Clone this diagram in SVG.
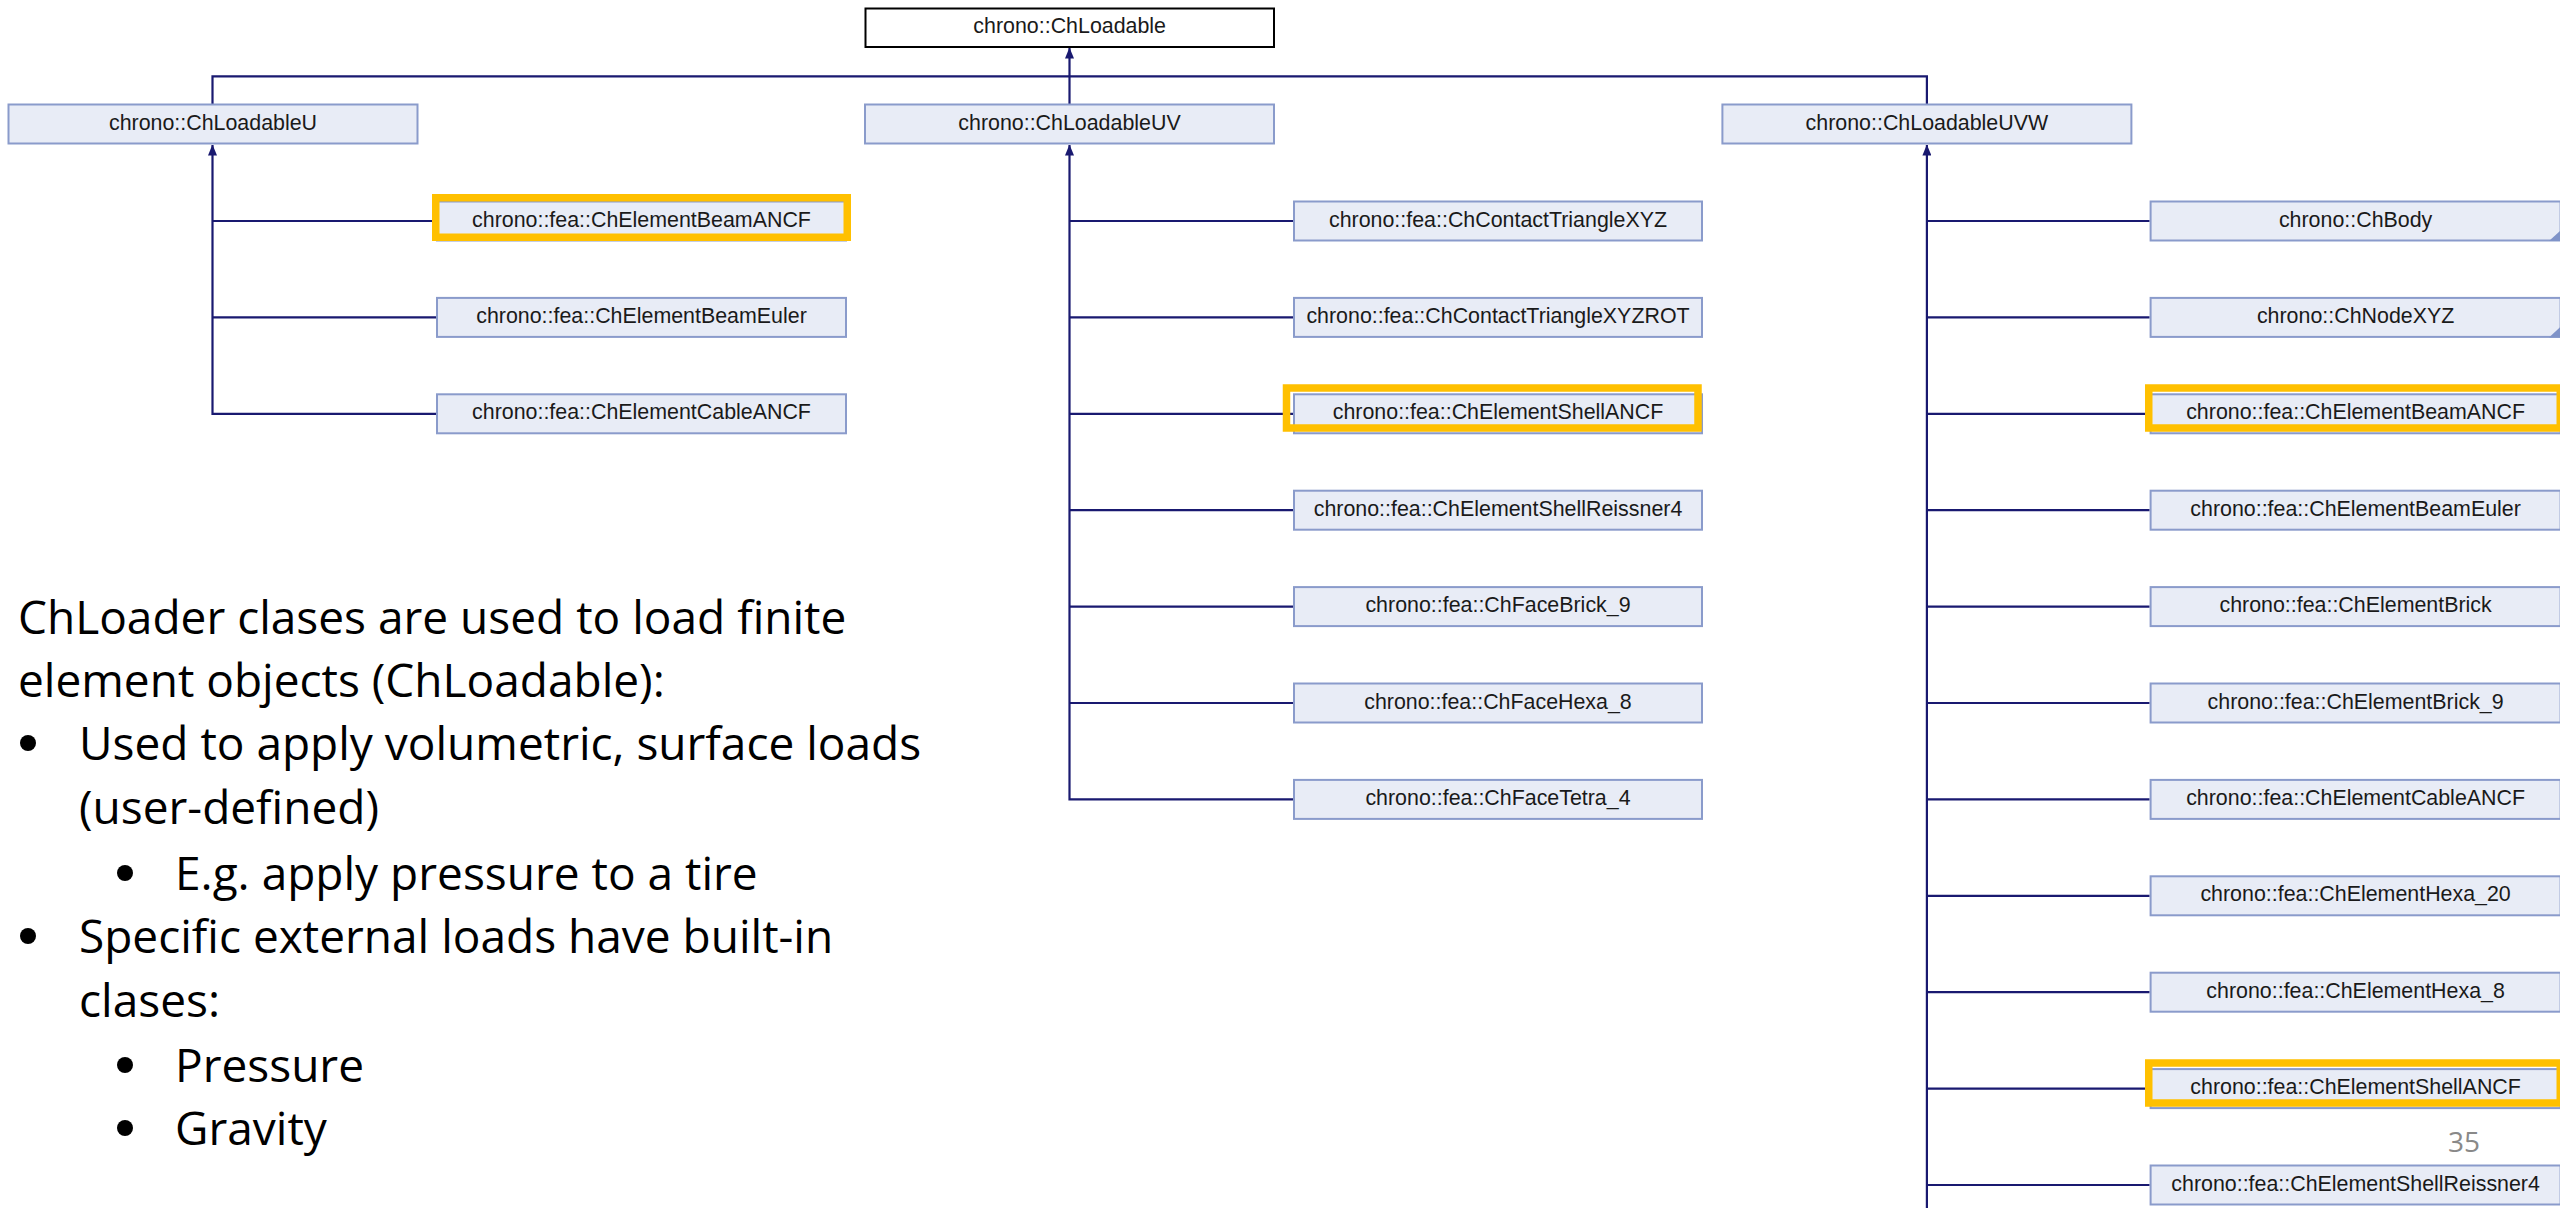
<svg xmlns="http://www.w3.org/2000/svg" width="2560" height="1208" viewBox="0 0 2560 1208">
<style>
  .node rect { fill: #E8ECF6; stroke: #8A9BCB; stroke-width: 2; }
  .root rect { fill: #FFFFFF; stroke: #000000; stroke-width: 2; }
  .node text, .root text { font-family: "Liberation Sans", Arial, sans-serif; font-size: 21.4px; fill: #1a1a1a; text-anchor: middle; }
  .node rect.hl { fill: none; stroke: #FFC000; stroke-width: 7.5; }
  .conn path { fill: none; stroke: #191970; stroke-width: 2.2; }
  .node polygon.trunc { fill: #7F93C8; }
  .body { font-family: "Open Sans", "Liberation Sans", sans-serif; font-size: 46px; fill: #000000; }
  .bul { fill: #000000; }
  .pg { font-family: "Open Sans", "Liberation Sans", sans-serif; font-size: 28px; fill: #898989; }
</style>
<defs>
  <marker id="arr" viewBox="0 0 11 9" refX="10.5" refY="4.5" markerWidth="11" markerHeight="9" markerUnits="userSpaceOnUse" orient="auto">
    <path d="M0,0 L11,4.5 L0,9 z" fill="#191970"/>
  </marker>
</defs>
<rect x="0" y="0" width="2560" height="1208" fill="#FFFFFF"/>

<g id="connectors" class="conn">
  <path d="M1069.5,104 V48" marker-end="url(#arr)"/>
  <path d="M212.5,104 V76.3 H1926.9 V104"/>
  <!-- ChLoadableU children -->
  <path d="M436,413.8 H212.5 V145" marker-end="url(#arr)"/>
  <path d="M212.5,221 H436"/>
  <path d="M212.5,317.4 H436"/>
  <!-- ChLoadableUV children -->
  <path d="M1293,799.4 H1069.5 V145" marker-end="url(#arr)"/>
  <path d="M1069.5,221 H1293"/>
  <path d="M1069.5,317.4 H1293"/>
  <path d="M1069.5,413.8 H1293"/>
  <path d="M1069.5,510.2 H1293"/>
  <path d="M1069.5,606.6 H1293"/>
  <path d="M1069.5,703 H1293"/>
  <!-- ChLoadableUVW children -->
  <path d="M1926.9,1208 V145" marker-end="url(#arr)"/>
  <path d="M1926.9,221 H2149.6"/>
  <path d="M1926.9,317.4 H2149.6"/>
  <path d="M1926.9,413.8 H2149.6"/>
  <path d="M1926.9,510.2 H2149.6"/>
  <path d="M1926.9,606.6 H2149.6"/>
  <path d="M1926.9,703 H2149.6"/>
  <path d="M1926.9,799.4 H2149.6"/>
  <path d="M1926.9,895.8 H2149.6"/>
  <path d="M1926.9,992.2 H2149.6"/>
  <path d="M1926.9,1088.6 H2149.6"/>
  <path d="M1926.9,1185 H2149.6"/>
</g>

<g id="n_ChLoadable" class="root"><rect x="865.5" y="8.5" width="408.5" height="38.5"/><text x="1069.7" y="33">chrono::ChLoadable</text></g>

<g id="n_ChLoadableU" class="node"><rect x="8.5" y="104.5" width="409" height="39"/><text x="213" y="129.5">chrono::ChLoadableU</text></g>
<g id="n_ChLoadableUV" class="node"><rect x="865" y="104.5" width="409" height="39"/><text x="1069.5" y="129.5">chrono::ChLoadableUV</text></g>
<g id="n_ChLoadableUVW" class="node"><rect x="1722.4" y="104.5" width="409" height="39"/><text x="1926.9" y="129.5">chrono::ChLoadableUVW</text></g>

<!-- U column -->
<g id="n_U_BeamANCF" class="node"><rect x="437" y="201.5" width="409" height="39"/><rect class="hl" x="435.75" y="197.75" width="411.5" height="39.5"/><text x="641.5" y="226.5">chrono::fea::ChElementBeamANCF</text></g>
<g id="n_U_BeamEuler" class="node"><rect x="437" y="297.9" width="409" height="39"/><text x="641.5" y="322.9">chrono::fea::ChElementBeamEuler</text></g>
<g id="n_U_CableANCF" class="node"><rect x="437" y="394.3" width="409" height="39"/><text x="641.5" y="419.3">chrono::fea::ChElementCableANCF</text></g>

<!-- UV column -->
<g id="n_UV_ContactTriangleXYZ" class="node"><rect x="1294" y="201.5" width="408" height="39"/><text x="1498" y="226.5">chrono::fea::ChContactTriangleXYZ</text></g>
<g id="n_UV_ContactTriangleXYZROT" class="node"><rect x="1294" y="297.9" width="408" height="39"/><text x="1498" y="322.9">chrono::fea::ChContactTriangleXYZROT</text></g>
<g id="n_UV_ShellANCF" class="node"><rect x="1294" y="394.3" width="408" height="39"/><rect class="hl" x="1286.5" y="388" width="411.5" height="40"/><text x="1498" y="419.3">chrono::fea::ChElementShellANCF</text></g>
<g id="n_UV_ShellReissner4" class="node"><rect x="1294" y="490.7" width="408" height="39"/><text x="1498" y="515.7">chrono::fea::ChElementShellReissner4</text></g>
<g id="n_UV_FaceBrick_9" class="node"><rect x="1294" y="587.1" width="408" height="39"/><text x="1498" y="612.1">chrono::fea::ChFaceBrick_9</text></g>
<g id="n_UV_FaceHexa_8" class="node"><rect x="1294" y="683.5" width="408" height="39"/><text x="1498" y="708.5">chrono::fea::ChFaceHexa_8</text></g>
<g id="n_UV_FaceTetra_4" class="node"><rect x="1294" y="779.9" width="408" height="39"/><text x="1498" y="804.9">chrono::fea::ChFaceTetra_4</text></g>

<!-- UVW column -->
<g id="n_UVW_ChBody" class="node"><rect x="2150.6" y="201.5" width="410" height="39"/><text x="2355.6" y="226.5">chrono::ChBody</text><polygon class="trunc" points="2549,241 2561,241 2561,230"/></g>
<g id="n_UVW_ChNodeXYZ" class="node"><rect x="2150.6" y="297.9" width="410" height="39"/><text x="2355.6" y="322.9">chrono::ChNodeXYZ</text><polygon class="trunc" points="2549,337.4 2561,337.4 2561,326.4"/></g>
<g id="n_UVW_BeamANCF" class="node"><rect x="2150.6" y="394.3" width="410" height="39"/><rect class="hl" x="2148.75" y="388" width="411.5" height="40"/><text x="2355.6" y="419.3">chrono::fea::ChElementBeamANCF</text></g>
<g id="n_UVW_BeamEuler" class="node"><rect x="2150.6" y="490.7" width="410" height="39"/><text x="2355.6" y="515.7">chrono::fea::ChElementBeamEuler</text></g>
<g id="n_UVW_Brick" class="node"><rect x="2150.6" y="587.1" width="410" height="39"/><text x="2355.6" y="612.1">chrono::fea::ChElementBrick</text></g>
<g id="n_UVW_Brick_9" class="node"><rect x="2150.6" y="683.5" width="410" height="39"/><text x="2355.6" y="708.5">chrono::fea::ChElementBrick_9</text></g>
<g id="n_UVW_CableANCF" class="node"><rect x="2150.6" y="779.9" width="410" height="39"/><text x="2355.6" y="804.9">chrono::fea::ChElementCableANCF</text></g>
<g id="n_UVW_Hexa_20" class="node"><rect x="2150.6" y="876.3" width="410" height="39"/><text x="2355.6" y="901.3">chrono::fea::ChElementHexa_20</text></g>
<g id="n_UVW_Hexa_8" class="node"><rect x="2150.6" y="972.7" width="410" height="39"/><text x="2355.6" y="997.7">chrono::fea::ChElementHexa_8</text></g>
<g id="n_UVW_ShellANCF" class="node"><rect x="2150.6" y="1069.1" width="410" height="39"/><rect class="hl" x="2148.75" y="1063" width="411.5" height="40"/><text x="2355.6" y="1094.1">chrono::fea::ChElementShellANCF</text></g>
<g id="n_UVW_ShellReissner4" class="node"><rect x="2150.6" y="1165.5" width="410" height="39"/><text x="2355.6" y="1190.5">chrono::fea::ChElementShellReissner4</text></g>

<g id="notes">
  <text class="body" x="18" y="634">ChLoader clases are used to load finite</text>
  <text class="body" x="18" y="697">element objects (ChLoadable):</text>
  <circle class="bul" cx="28" cy="743" r="8"/>
  <text class="body" x="79" y="760">Used to apply volumetric, surface loads</text>
  <text class="body" x="79" y="824">(user-defined)</text>
  <circle class="bul" cx="125" cy="873" r="8"/>
  <text class="body" x="175" y="890">E.g. apply pressure to a tire</text>
  <circle class="bul" cx="28" cy="936" r="8"/>
  <text class="body" x="79" y="953">Specific external loads have built-in</text>
  <text class="body" x="79" y="1017">clases:</text>
  <circle class="bul" cx="125" cy="1065" r="8"/>
  <text class="body" x="175" y="1082">Pressure</text>
  <circle class="bul" cx="125" cy="1128" r="8"/>
  <text class="body" x="175" y="1145">Gravity</text>
  <text class="pg" x="2448" y="1152">35</text>
</g>
</svg>
